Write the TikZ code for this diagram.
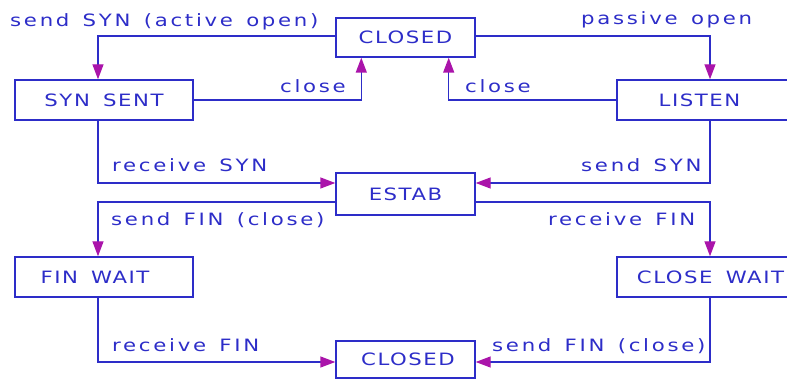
\documentclass[tikz,border=0pt]{standalone}
\usepackage{fontspec}
\setmainfont{DejaVu Sans}[FakeStretch=1.25,LetterSpace=9,WordSpace=1.6]
\newfontfamily\lblfont{DejaVu Sans}[FakeStretch=1.25,LetterSpace=16,WordSpace=1.4]
\usetikzlibrary{arrows.meta}
\definecolor{lblue}{RGB}{45,45,200}
\definecolor{amag}{RGB}{170,20,170}
\begin{document}
\begin{tikzpicture}[x=1pt,y=-1pt,
  state/.style={draw=lblue,line width=1.4pt,text=lblue,inner sep=0pt,font=\fontsize{17}{17}\selectfont},
  wide/.style={minimum width=178pt,minimum height=40pt},
  narrow/.style={minimum width=139pt},
  lbl/.style={text=lblue,inner sep=0pt,anchor=base west,font=\lblfont\fontsize{17}{17}\selectfont},
  conn/.style={draw=lblue,line width=1.4pt,-{Triangle[length=15pt,width=11pt,color=amag]}}]
\useasboundingbox (0,0) rectangle (787,379);
\clip (0,0) rectangle (787,379);
% states
\node[state,narrow,minimum height=39pt] (c1) at (405.5,37.5) {CLOSED};
\node[state,wide] (ss) at (104,100) {SYN SENT};
\node[state,wide] (li) at (706,100) {LISTEN\hspace*{13pt}};
\node[state,narrow,minimum height=42pt] (es) at (405.5,194) {ESTAB};
\node[state,wide] (fw) at (104,277) {FIN WAIT\hspace*{18pt}};
\node[state,wide] (cw) at (706,277) {\hspace*{9pt}CLOSE WAIT};
\node[state,narrow,minimum height=37pt] (c2) at (405.5,359.5) {\hspace*{5pt}CLOSED};
% connectors
\draw[conn] ([yshift=1.5pt]c1.west) -| ([xshift=-6pt]ss.north);
\draw[conn] ([yshift=1.5pt]c1.east) -| ([xshift=4pt]li.north);
\draw[conn] (ss.east) -| ([xshift=26pt]c1.south west);
\draw[conn] (li.west) -| ([xshift=-27pt]c1.south east);
\draw[conn] ([xshift=-6pt]ss.south) |- ([yshift=11pt]es.west);
\draw[conn] ([xshift=4pt]li.south) |- ([yshift=11pt]es.east);
\draw[conn] ([yshift=-8pt]es.west) -| ([xshift=-6pt]fw.north);
\draw[conn] ([yshift=-8pt]es.east) -| ([xshift=4pt]cw.north);
\draw[conn] ([xshift=-6pt]fw.south) |- ([yshift=-2.5pt]c2.west);
\draw[conn] ([xshift=4pt]cw.south) |- ([yshift=-2.5pt]c2.east);
% labels
\node[lbl] (l1) at (10,27) {send SYN (active open)};
\node[lbl] (l2) at (581,25) {passive open};
\node[lbl] (l3) at (280,93) {close};
\node[lbl] (l4) at (465,93) {close};
\node[lbl] (l5) at (112,172) {receive SYN};
\node[lbl] (l6) at (581,172) {send SYN};
\node[lbl] (l7) at (111,226) {send FIN (close)};
\node[lbl] (l8) at (548,226) {receive FIN};
\node[lbl] (l9) at (112,351) {receive FIN};
\node[lbl] (l10) at (492,351) {send FIN (close)};
\end{tikzpicture}
\end{document}
